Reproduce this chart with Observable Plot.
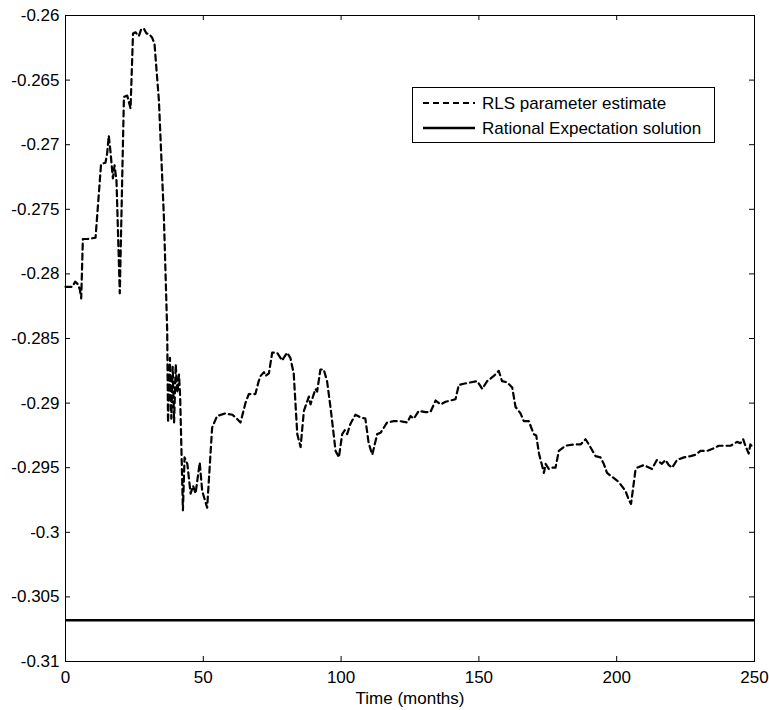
<!DOCTYPE html>
<html>
<head>
<meta charset="utf-8">
<script src="https://cdn.jsdelivr.net/npm/d3@7"></script>
<script src="https://cdn.jsdelivr.net/npm/@observablehq/plot@0.6"></script>
<style>
  body { margin: 0; background: #fff; }
  #wrap { position: relative; width: 769px; height: 710px; font-family: "Liberation Sans", Arial, sans-serif; }
  #legend { position: absolute; left: 412px; top: 87px; }
</style>
</head>
<body>
<div id="wrap"></div>
<script>
const months = [0,2.5,3.5,4.5,5.2,5.7,6.3,8,10.9,12.9,14.5,15.1,15.7,16.3,17.2,17.8,18.5,19.7,21.2,22.4,23.6,24.5,25.4,26.6,27.4,28.4,29.4,30.2,31.4,32.3,33.9,35.7,36.9,37.2,37.9,38.4,38.9,39.4,40.0,40.6,41.2,41.6,42.6,43.2,44.2,45.4,46.3,47.2,48.7,49.6,51.4,53.2,55,58,60.5,61.7,63.5,65.3,66.5,68.9,70.1,70.8,72,72.6,73.8,75,76.8,78.6,80.4,81.6,82.8,84.1,85.3,86.5,88.3,88.9,90.7,91.3,92.5,93.7,94.9,96.2,98,99.2,100.4,101.3,102.2,103.4,105.2,107,108.8,110,111.3,113.1,114.3,116.7,119.1,121.5,124,125.2,126.4,128.2,130.6,132.4,134.3,136.1,137.9,141.5,142.7,144.5,149.4,151.2,153,155.4,157.2,158.4,160.3,162.1,163.3,165.1,166.3,168.1,169.9,170.8,171.8,173.6,174.2,175.4,176.6,177.8,179,181.4,184.4,186.9,188.7,189.9,192.3,194.1,195.3,196.5,198.3,200.7,203.2,204.4,205.2,206.8,207.4,209.8,212.8,214.6,216.4,217.7,218.9,220.1,221.9,224.4,226.8,228.6,230.4,232.8,235.2,237,239.5,241.3,243.7,244.9,245.9,246.7,247.9,248.5,249.7];
const rls = [-0.2810,-0.2810,-0.2806,-0.2808,-0.2812,-0.2819,-0.2773,-0.2773,-0.2772,-0.2715,-0.2714,-0.2707,-0.2693,-0.2705,-0.2726,-0.2716,-0.2728,-0.2815,-0.2663,-0.2662,-0.2672,-0.2614,-0.2613,-0.2616,-0.2611,-0.2610,-0.2614,-0.2614,-0.2617,-0.2622,-0.2666,-0.2756,-0.2844,-0.2915,-0.2865,-0.2912,-0.2872,-0.2915,-0.2870,-0.2892,-0.2878,-0.2895,-0.2983,-0.2942,-0.2947,-0.2970,-0.2964,-0.2970,-0.2946,-0.2968,-0.2981,-0.2919,-0.2910,-0.2908,-0.2909,-0.2911,-0.2915,-0.2900,-0.2893,-0.2893,-0.2883,-0.2879,-0.2876,-0.2879,-0.2877,-0.2861,-0.2861,-0.2867,-0.2861,-0.2865,-0.2877,-0.2924,-0.2934,-0.2906,-0.2895,-0.2901,-0.2889,-0.2891,-0.2874,-0.2874,-0.2883,-0.2904,-0.2937,-0.2942,-0.2924,-0.2921,-0.2924,-0.2916,-0.2909,-0.2911,-0.2912,-0.2931,-0.2940,-0.2924,-0.2923,-0.2915,-0.2914,-0.2914,-0.2915,-0.2910,-0.2912,-0.2906,-0.2907,-0.2907,-0.2898,-0.2901,-0.2899,-0.2897,-0.2886,-0.2885,-0.2883,-0.2889,-0.2883,-0.2879,-0.2875,-0.2883,-0.2884,-0.2888,-0.2903,-0.2908,-0.2914,-0.2914,-0.2924,-0.2925,-0.2939,-0.2954,-0.2947,-0.2951,-0.2950,-0.2950,-0.2937,-0.2933,-0.2932,-0.2932,-0.2928,-0.2932,-0.2941,-0.2942,-0.2947,-0.2954,-0.2957,-0.2961,-0.2968,-0.2975,-0.2978,-0.2952,-0.2950,-0.2948,-0.2951,-0.2944,-0.2947,-0.2944,-0.2948,-0.2950,-0.2944,-0.2942,-0.2941,-0.2940,-0.2937,-0.2937,-0.2935,-0.2933,-0.2933,-0.2933,-0.2930,-0.2931,-0.2928,-0.2933,-0.2939,-0.2932,-0.2935];
const reSolution = -0.3068;
const xTicks = [0,50,100,150,200,250];
const yTicks = [-0.31,-0.305,-0.3,-0.295,-0.29,-0.285,-0.28,-0.275,-0.27,-0.265,-0.26];
const seriesNames = ["RLS parameter estimate", "Rational Expectation solution"];
const xLabel = "Time (months)";

const data = months.map((m, i) => ({month: m, value: rls[i]}));
const fmtY = d => (Math.round(d * 1000) / 1000).toString();

const W = 769, H = 710, mL = 65, mR = 15, mT = 15, mB = 49;
const fw = W - mL - mR, fh = H - mT - mB, tk = 5;

const chart = Plot.plot({
  width: W,
  height: H,
  marginLeft: mL,
  marginRight: mR,
  marginTop: mT,
  marginBottom: mB,
  style: {fontFamily: "'Liberation Sans', Arial, sans-serif", fontSize: "17px", color: "black", background: "white"},
  x: {domain: [0, 250]},
  y: {domain: [-0.31, -0.26]},
  marks: [
    Plot.axisX({anchor: "bottom", ticks: xTicks, tickSize: 0, tickPadding: 9, label: null, tickFormat: d => d}),
    Plot.axisY({anchor: "left", ticks: yTicks, tickSize: 0, tickPadding: 6, label: null, tickFormat: fmtY}),
    // inward tick marks (MATLAB style) on all four sides
    Plot.tickX(xTicks, {x: d => d, stroke: "black", strokeWidth: 1, insetTop: fh - tk}),
    Plot.tickX(xTicks, {x: d => d, stroke: "black", strokeWidth: 1, insetBottom: fh - tk}),
    Plot.tickY(yTicks, {y: d => d, stroke: "black", strokeWidth: 1, insetRight: fw - tk}),
    Plot.tickY(yTicks, {y: d => d, stroke: "black", strokeWidth: 1, insetLeft: fw - tk}),
    Plot.ruleY([reSolution], {stroke: "black", strokeWidth: 2.5}),
    Plot.line(data, {x: "month", y: "value", stroke: "black", strokeWidth: 2.2, strokeDasharray: "6,4"}),
    Plot.frame({stroke: "black", strokeWidth: 1}),
    Plot.text([xLabel], {frameAnchor: "bottom", lineAnchor: "middle", dy: 37, fontSize: 17, fill: "black"})
  ]
});

const wrap = document.getElementById("wrap");
wrap.appendChild(chart);

// legend
const leg = d3.select(wrap).append("svg")
  .attr("id", "legend")
  .attr("width", 304).attr("height", 57);
leg.append("rect").attr("x", 0.5).attr("y", 0.5).attr("width", 302).attr("height", 55)
  .attr("fill", "white").attr("stroke", "black");
const styles = [{dash: "6,4", w: 2.2}, {dash: null, w: 2.5}];
seriesNames.forEach((name, i) => {
  const yy = 16 + i * 25;
  const ln = leg.append("line").attr("x1", 11).attr("x2", 63).attr("y1", yy).attr("y2", yy)
    .attr("stroke", "black").attr("stroke-width", styles[i].w);
  if (styles[i].dash) ln.attr("stroke-dasharray", styles[i].dash);
  leg.append("text").attr("x", 70).attr("y", yy).attr("dy", "0.35em")
    .attr("font-family", "'Liberation Sans', Arial, sans-serif").attr("font-size", 17)
    .attr("fill", "black").text(name);
});
</script>
</body>
</html>
